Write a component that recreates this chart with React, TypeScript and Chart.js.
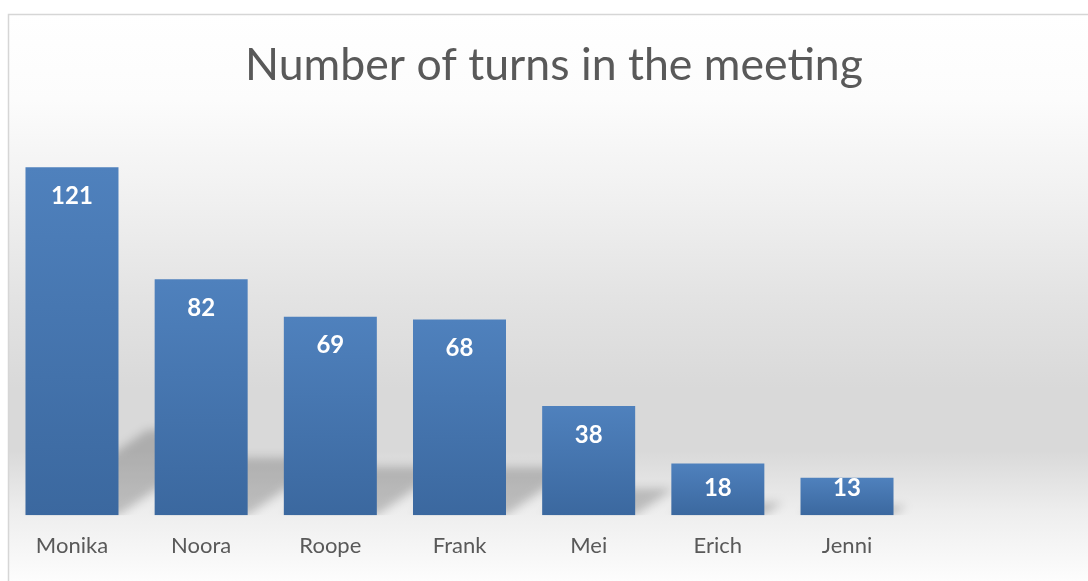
import { useEffect, useRef } from "react";
import { Chart, registerables } from "chart.js";

Chart.register(...registerables);

const TITLE = "Number of turns in the meeting";
const categories = ["Monika", "Noora", "Roope", "Frank", "Mei", "Erich", "Jenni"];
const turns = [121, 82, 69, 68, 38, 18, 13];
const Y_MAX = 140;

const FONT = "Lato, 'Open Sans', sans-serif";
const TEXT_COLOR = "#595959";

export default function App() {
  const ref = useRef<HTMLCanvasElement>(null);

  useEffect(() => {
    document.body.style.margin = "0";
    document.body.style.overflow = "hidden";
    const canvas = ref.current;
    if (!canvas) return;

    const bgPlugin = {
      id: "bgPlugin",
      beforeDraw(chart: any) {
        const { ctx, width, height } = chart;
        ctx.save();
        ctx.fillStyle = "#ffffff";
        ctx.fillRect(0, 0, width, height);
        const g = ctx.createLinearGradient(0, 14, 0, height);
        g.addColorStop(0, "#ffffff");
        g.addColorStop(0.15, "#fcfcfc");
        g.addColorStop(0.33, "#f0f0f0");
        g.addColorStop(0.5, "#e3e3e3");
        g.addColorStop(0.66, "#d9d9d9");
        g.addColorStop(0.77, "#d9d9d9");
        g.addColorStop(0.88, "#eeeeee");
        g.addColorStop(1, "#fdfdfd");
        ctx.fillStyle = g;
        ctx.fillRect(8, 14, width - 8, height - 14);
        ctx.strokeStyle = "#d6d6d6";
        ctx.lineWidth = 1.5;
        ctx.beginPath();
        ctx.moveTo(8.5, height);
        ctx.lineTo(8.5, 14.5);
        ctx.lineTo(width, 14.5);
        ctx.stroke();
        ctx.fillStyle = TEXT_COLOR;
        ctx.font = `44.6px ${FONT}`;
        ctx.textAlign = "center";
        ctx.textBaseline = "middle";
        ctx.fillText(TITLE, 554, 66);
        ctx.restore();
      },
    };

    const shadowPlugin = {
      id: "shadowPlugin",
      beforeDatasetsDraw(chart: any) {
        const { ctx, chartArea } = chart;
        const meta = chart.getDatasetMeta(0);
        ctx.save();
        ctx.beginPath();
        ctx.rect(0, 0, chart.width, chartArea.bottom);
        ctx.clip();
        ctx.filter = "blur(5px)";
        ctx.fillStyle = "rgba(0,0,0,0.2)";
        meta.data.forEach((bar: any) => {
          const { x, y, base, width } = bar.getProps(["x", "y", "base", "width"], true);
          const h = base - y;
          const l = x - width / 2;
          const r = x + width / 2;
          const dx = 0.35 * h;
          const dy = 0.245 * h;
          ctx.beginPath();
          ctx.moveTo(l, base);
          ctx.lineTo(r, base);
          ctx.lineTo(r + dx, base - dy);
          ctx.lineTo(l + dx, base - dy);
          ctx.closePath();
          ctx.fill();
        });
        ctx.restore();
      },
    };

    const labelPlugin = {
      id: "labelPlugin",
      afterDatasetsDraw(chart: any) {
        const { ctx } = chart;
        const meta = chart.getDatasetMeta(0);
        ctx.save();
        ctx.fillStyle = "#ffffff";
        ctx.font = `bold 24px ${FONT}`;
        ctx.textAlign = "center";
        ctx.textBaseline = "middle";
        meta.data.forEach((bar: any, i: number) => {
          const { x, y, base } = bar.getProps(["x", "y", "base"], true);
          const cy = Math.min(y + 29, base - 26.5);
          ctx.fillText(String(turns[i]), x, cy);
        });
        ctx.restore();
      },
    };

    const chart = new Chart(canvas, {
      type: "bar",
      data: {
        labels: categories,
        datasets: [
          {
            label: "Turns",
            data: turns,
            barPercentage: 0.72,
            categoryPercentage: 1,
            borderWidth: 0,
            backgroundColor: (c: any) => {
              const ch = c.chart;
              const ys = ch.scales && ch.scales.y;
              if (!ys || !ch.chartArea || c.type !== "data") return "#4a7bb7";
              const top = ys.getPixelForValue(c.raw);
              const base = ys.getPixelForValue(0);
              if (!isFinite(top) || !isFinite(base) || top === base) return "#4a7bb7";
              const g = ch.ctx.createLinearGradient(0, top, 0, base);
              g.addColorStop(0, "#4f81bd");
              g.addColorStop(1, "#3b689f");
              return g;
            },
          },
        ],
      },
      options: {
        animation: false,
        responsive: false,
        maintainAspectRatio: false,
        devicePixelRatio: 1,
        layout: { padding: { left: 7.4, right: 176.4, top: 112.5, bottom: 3.8 } },
        plugins: {
          legend: { display: false },
          tooltip: { enabled: false },
          title: { display: false },
        },
        scales: {
          x: {
            grid: { display: false, drawTicks: false },
            border: { display: false },
            ticks: {
              font: { family: FONT, size: 22 },
              color: TEXT_COLOR,
              padding: 17.8,
              maxRotation: 0,
              autoSkip: false,
            },
          },
          y: {
            display: false,
            min: 0,
            max: Y_MAX,
          },
        },
      },
      plugins: [bgPlugin, shadowPlugin, labelPlugin],
    });

    return () => chart.destroy();
  }, []);

  return <canvas ref={ref} width={1088} height={581} style={{ display: "block" }} />;
}
